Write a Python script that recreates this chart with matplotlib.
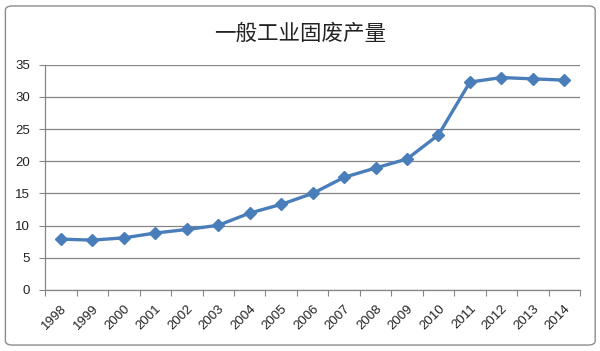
import matplotlib
matplotlib.use("Agg")
import matplotlib.pyplot as plt
from matplotlib.patches import FancyBboxPatch
from matplotlib.transforms import ScaledTranslation

years = ["1998", "1999", "2000", "2001", "2002", "2003", "2004", "2005", "2006",
         "2007", "2008", "2009", "2010", "2011", "2012", "2013", "2014"]
values = [7.9, 7.75, 8.1, 8.85, 9.4, 10.05, 11.95, 13.3, 15.0,
          17.5, 18.95, 20.35, 24.1, 32.3, 33.0, 32.8, 32.6]
yticks = [0, 5, 10, 15, 20, 25, 30, 35]
title = "一般工业固废产量"

fig = plt.figure(figsize=(6.0, 3.51), dpi=100)
fig.patch.set_facecolor("white")
border = FancyBboxPatch((0.009, 0.017), 0.983, 0.966, boxstyle="round,pad=0,rounding_size=0.012",
                        transform=fig.transFigure, facecolor="white", edgecolor="#8c8c8c",
                        linewidth=1.0, zorder=-5)
fig.add_artist(border)

ax = fig.add_axes([0.0755, 0.1738, 0.8912, 0.6419])
ax.set_facecolor("none")
x = list(range(len(years)))
ax.plot(x, values, color="#4A7EBB", linewidth=2.4, marker="D", markersize=6.5,
        markerfacecolor="#4A7EBB", markeredgecolor="#4A7EBB", zorder=3)
ax.set_xlim(-0.5, len(years) - 0.5)
ax.set_ylim(0, 35)
ax.set_yticks(yticks)
ax.set_yticklabels([str(v) for v in yticks], fontsize=9.5, family="Liberation Sans", color="#222222")
ax.set_xticks([i - 0.5 for i in range(len(years) + 1)])
ax.set_xticklabels([])
ax.set_xticks(x, minor=True)
ax.set_xticklabels(years, minor=True, rotation=45, ha="right", va="top", rotation_mode="anchor",
                   fontsize=9.5, family="Liberation Sans", color="#222222")
offset = ScaledTranslation(4 / 100, 0, fig.dpi_scale_trans)
for lbl in ax.get_xticklabels(minor=True):
    lbl.set_transform(lbl.get_transform() + offset)
ax.tick_params(axis="x", which="minor", length=0, pad=9)
ax.tick_params(axis="x", which="major", length=4, color="#868686", direction="out")
ax.tick_params(axis="y", length=4, color="#868686", direction="out", pad=7)
ax.grid(axis="y", color="#868686", linewidth=0.9)
ax.set_axisbelow(True)
for s in ["top", "right"]:
    ax.spines[s].set_visible(False)
for s in ["left", "bottom"]:
    ax.spines[s].set_color("#868686")
    ax.spines[s].set_linewidth(0.9)

fig.text(0.5, 0.905, title, ha="center", va="center", fontsize=15.5,
         family=["Noto Sans CJK SC", "DejaVu Sans"], fontweight="light", color="#222222")

fig.savefig("out.png", dpi=100)
